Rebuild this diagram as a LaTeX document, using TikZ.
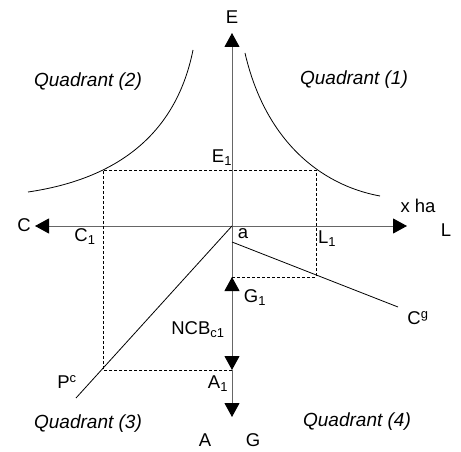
\documentclass[tikz,border=0pt]{standalone}
\usepackage{fontspec}
\setmainfont{Liberation Sans}
\usetikzlibrary{positioning, arrows.meta, calc}
\def\tipLen{14pt}
\def\tipWid{15pt}
\def\labelSize{\fontsize{18.5}{22}\selectfont}
\tikzset{
  axisline/.style={draw=black!60, line width=1pt},
  tipped/.style={-{Triangle[length=\tipLen, width=\tipWid, color=black]}},
  bothtipped/.style={{Triangle[length=\tipLen, width=\tipWid, color=black]}-{Triangle[length=\tipLen, width=\tipWid, color=black]}},
  curve/.style={draw=black, line width=0.8pt},
  guide/.style={draw=black, line width=0.7pt, dash pattern=on 3pt off 2pt},
  lbl/.style={font=\labelSize, inner sep=0pt},
  quad/.style={font=\fontsize{19}{22}\selectfont\itshape, inner sep=0pt}
}

\begin{document}
\begin{tikzpicture}[x=1pt, y=-1pt]
  \useasboundingbox (0,0) rectangle (461,452);

  % axes
  \coordinate (a) at (232,226);
  \coordinate (Etip) at (232,33);
  \coordinate (Gtip) at (232,417);
  \coordinate (Ctip) at (35,226);
  \coordinate (Ltip) at (407,226);
  \coordinate (G1) at (232,277);
  \coordinate (A1) at (232,370);

  % corners of the dashed guide
  \coordinate (upleft) at (103,170);
  \coordinate (upright) at (316,170);
  \coordinate (lowright) at (316,277);
  \coordinate (lowleft) at (103,370);

  \coordinate (pcEnd) at (76,398);
  \coordinate (cgStart) at (232,242);
  \coordinate (cgEnd) at (398,307);

  \draw[axisline, tipped] (a) -- (Etip);
  \draw[axisline, tipped] (a) -- (Ctip);
  \draw[axisline, tipped] (a) -- (Ltip);
  \draw[axisline] (a) -- (G1);
  \draw[axisline, bothtipped] (G1) -- (A1);
  \draw[axisline, tipped] (A1) -- (Gtip);

  \draw[guide] (A1) -- (lowleft) -- (upleft) -- (upright) -- (lowright) -- (G1);

  \draw[curve] (28,192) .. controls (110,180) and (175,140) .. (193,50);
  \draw[curve] (245,53) .. controls (265,140) and (320,185) .. (380,196);

  \draw[curve] (a) -- (pcEnd);
  \draw[curve] (cgStart) -- (cgEnd);

  % labels
  \node[lbl] (labE) at (232,17) {E};
  \node[lbl] (labE1) at (222,158) {E\textsubscript{1}};
  \node[lbl] (labXha) at (418,206) {x ha};
  \node[lbl] (labC) at (24,225) {C};
  \node[lbl] (labL) at (446,230) {L};
  \node[lbl] (labC1) at (85,237) {C\textsubscript{1}};
  \node[lbl] (laba) at (243,234) {a};
  \node[lbl] (labL1) at (327,239) {L\textsubscript{1}};
  \node[lbl] (labG1) at (255,298) {G\textsubscript{1}};
  \node[lbl] (labCg) at (418,318) {C\textsuperscript{g}};
  \node[lbl] (labNCB) at (198,330) {NCB\textsubscript{c1}};
  \node[lbl] (labPc) at (67,382) {P\textsuperscript{c}};
  \node[lbl] (labA1) at (218,384) {A\textsubscript{1}};
  \node[lbl] (labA) at (205,440) {A};
  \node[lbl] (labG) at (253,440) {G};

  \node[quad] (q2) at (88,82) {Quadrant (2)};
  \node[quad] (q1) at (354,80) {Quadrant (1)};
  \node[quad] (q3) at (88,424) {Quadrant (3)};
  \node[quad] (q4) at (357,422) {Quadrant (4)};
\end{tikzpicture}
\end{document}
